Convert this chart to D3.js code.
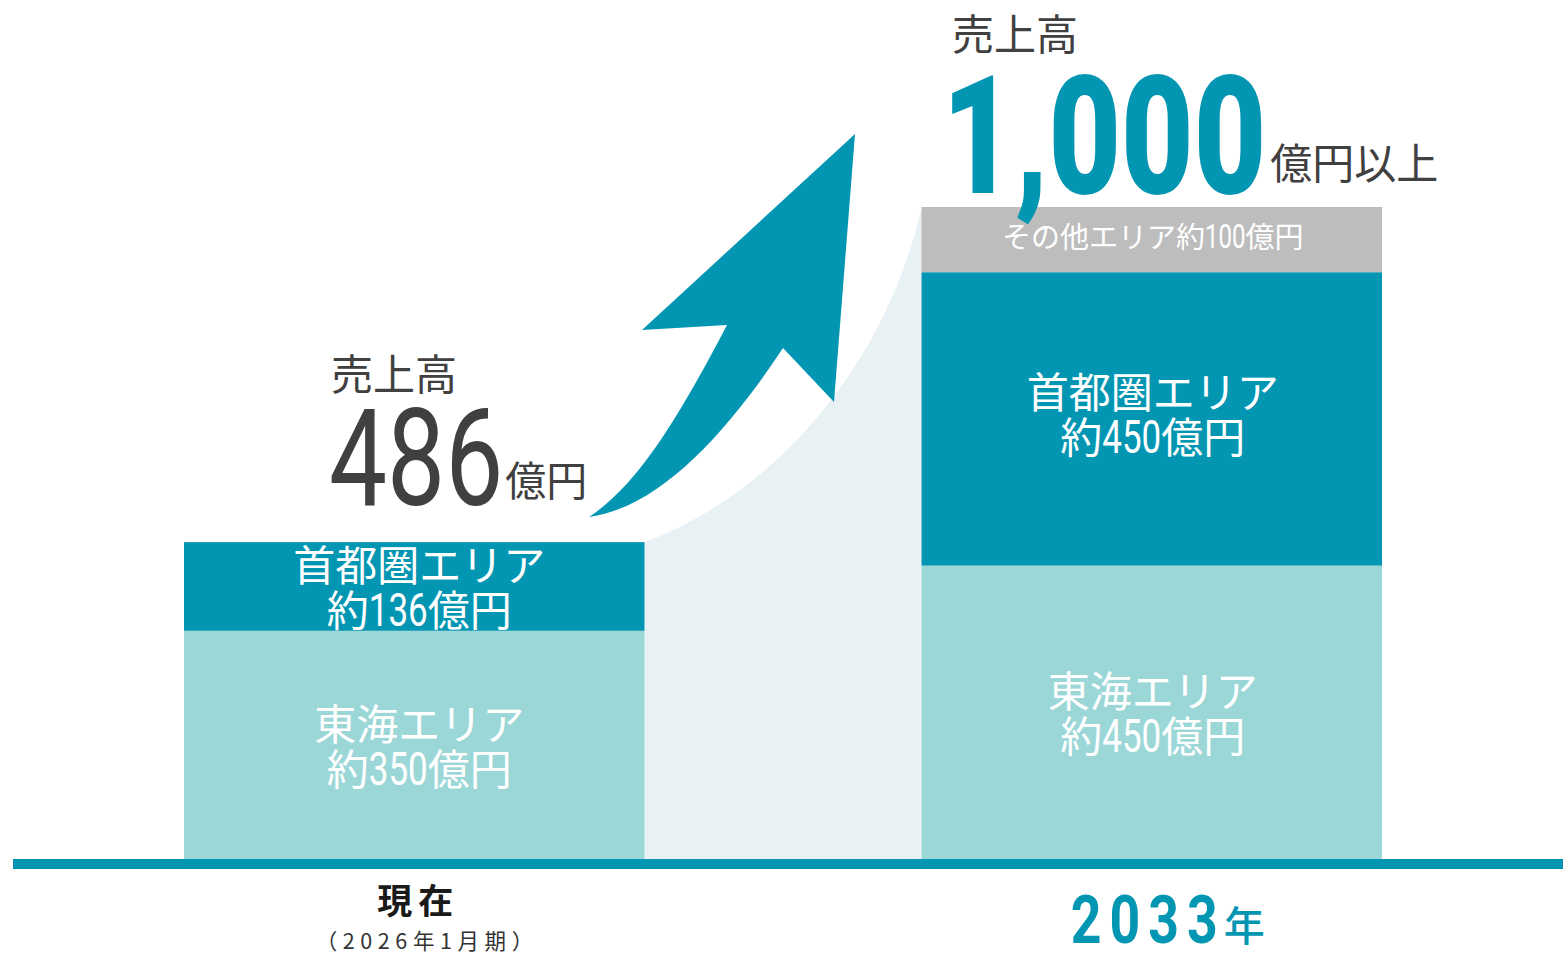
<!DOCTYPE html>
<html lang="ja">
<head>
<meta charset="utf-8">
<script src="https://cdn.jsdelivr.net/npm/d3@7"></script>
<style>
  html, body { margin: 0; padding: 0; background: #fff; overflow: hidden; }
  svg { display: block; }
</style>
</head>
<body>
<svg id="chart" width="1563" height="954"></svg>
<script>
// ---- data -------------------------------------------------------------
const periods      = ["現在", "2033年"];
const periodNotes  = ["（2026年1月期）", ""];
const areaKeys     = ["東海エリア", "首都圏エリア", "その他エリア"];
const tokaiSales   = [350, 450];
const shutokenSales = [136, 450];
const otherSales   = [0, 100];
const totalSales   = [486, 1000];
const totalSuffix  = ["億円", "億円以上"];
const totalCaption = "売上高";
const yDomain      = [0, 1000];

// ---- styles -----------------------------------------------------------
const CJK = "'Noto Sans CJK JP', 'Noto Sans', sans-serif";
const NUM = "Roboto, 'Noto Sans', sans-serif";
const TEAL = "#0396b3";
const areaColor = { "東海エリア": "#9cd7d8", "首都圏エリア": TEAL, "その他エリア": "#bdbdbd" };
const DARK = "#404040";

const W = 1563, H = 954;
const svg = d3.select("#chart");

const x = d3.scaleBand().domain(periods).range([184, 1382]).paddingInner(0.3756).paddingOuter(0);
const y = d3.scaleLinear().domain(yDomain).range([859, 207]);
const bw = x.bandwidth();

const rows = periods.map((p, i) => ({
  period: p,
  "東海エリア": tokaiSales[i],
  "首都圏エリア": shutokenSales[i],
  "その他エリア": otherSales[i]
}));
const series = d3.stack().keys(areaKeys)(rows);

// Lays out a run of text pieces side by side; digit runs can be narrowed.
function richText(parent, parts, x0, y0, anchor) {
  const g = parent.append("g");
  const items = parts.map(p => {
    const t = g.append("text").text(p.t)
      .attr("font-family", p.family)
      .attr("font-size", p.size)
      .attr("font-weight", p.weight || 400)
      .attr("fill", p.fill)
      .style("letter-spacing", (p.ls || 0) + "px");
    const sx = p.sx || 1;
    const w = t.node().getComputedTextLength() * sx;
    if (sx !== 1) t.attr("textLength", w).attr("lengthAdjust", "spacingAndGlyphs");
    return { t, w, dy: p.dy || 0, gap: p.gap || 0 };
  });
  const total = d3.sum(items, d => d.w + d.gap);
  let cx = anchor === "middle" ? x0 - total / 2 : x0;
  items.forEach(d => {
    cx += d.gap;
    d.t.attr("x", cx).attr("y", y0 + d.dy);
    cx += d.w;
  });
  return g;
}

// Splits "約350億円" style strings into kanji and condensed-digit pieces.
function labelParts(str, size, numSize, numScale, fill) {
  return str.split(/([0-9,]+)/).filter(s => s.length).map(s => /^[0-9,]+$/.test(s)
    ? { t: s, family: NUM, size: numSize, sx: numScale, fill }
    : { t: s, family: CJK, size, fill });
}

// ---- growth wedge behind the bars --------------------------------------
const ax = x(periods[0]) + bw, ay = y(totalSales[0]);
const bx = x(periods[1]),      by = y(totalSales[1]);
const wedge = d3.path();
wedge.moveTo(ax, ay);
wedge.bezierCurveTo(ax + 0.52 * (bx - ax), ay - 0.16 * (ay - by),
                    ax + 0.89 * (bx - ax), ay - 0.58 * (ay - by), bx, by);
wedge.lineTo(bx, y(0));
wedge.lineTo(ax, y(0));
wedge.closePath();
svg.append("path").attr("d", wedge.toString()).attr("fill", "#e8f1f4");

// ---- stacked bars ------------------------------------------------------
const layers = svg.append("g").selectAll("g").data(series).join("g")
  .attr("fill", d => areaColor[d.key]);
layers.selectAll("rect").data(d => d.map(s => ({ s, key: d.key }))).join("rect")
  .filter(d => d.s[1] - d.s[0] > 0)
  .attr("x", d => x(d.s.data.period))
  .attr("width", bw)
  .attr("y", d => y(d.s[1]))
  .attr("height", d => y(d.s[0]) - y(d.s[1]));

// ---- labels inside the bars --------------------------------------------
const labelLayer = svg.append("g");
series.forEach(layer => {
  layer.forEach((s, i) => {
    const v = s[1] - s[0];
    if (v <= 0) return;
    const cx = x(s.data.period) + bw / 2 + (i === 0 ? 5 : 1);
    const cy = (y(s[0]) + y(s[1])) / 2;
    if (layer.key === "その他エリア") {
      richText(labelLayer, labelParts(`${layer.key}約${v}億円`, 29, 33, 0.73, "#fff"), cx, cy + 8, "middle");
    } else {
      const lift = layer.key === "首都圏エリア" && i === 1 ? 6 : 0;
      richText(labelLayer, [{ t: layer.key, family: CJK, size: 42, fill: "#fff" }], cx, cy - 5 - lift, "middle");
      richText(labelLayer, labelParts(`約${v}億円`, 42, 46, 0.76, "#fff"), cx, cy + 40 - lift, "middle");
    }
  });
});

// ---- arrow ---------------------------------------------------------------
const arrow = d3.path();
arrow.moveTo(589, 517);
arrow.bezierCurveTo(632, 488, 668, 438, 727, 325);
arrow.lineTo(642, 330);
arrow.lineTo(855, 134);
arrow.lineTo(834, 402);
arrow.lineTo(783, 348);
arrow.bezierCurveTo(730, 428, 662, 507, 589, 517);
arrow.closePath();
svg.append("path").attr("d", arrow.toString()).attr("fill", TEAL);

// ---- baseline ------------------------------------------------------------
svg.append("rect").attr("x", 13).attr("y", y(0)).attr("width", W - 13).attr("height", 10).attr("fill", TEAL);

// ---- totals above the bars ---------------------------------------------
// current period
richText(svg, [{ t: totalCaption, family: CJK, size: 42, fill: DARK }], 331, 390, "start");
richText(svg, [
  { t: String(totalSales[0]), family: NUM, size: 136, sx: 0.76, fill: DARK },
  { t: totalSuffix[0], family: CJK, size: 41, fill: DARK, dy: -9, gap: 2 }
], 329, 505, "start");

// 2033 target
richText(svg, [{ t: totalCaption, family: CJK, size: 42, fill: DARK }], 952, 50, "start");
richText(svg, [
  { t: d3.format(",")(totalSales[1]), family: NUM, size: 166, weight: 900, sx: 0.755, fill: TEAL },
  { t: totalSuffix[1], family: CJK, size: 42, fill: DARK, dy: -14, gap: 4 }
], 942, 193, "start");

// ---- period labels under the baseline ------------------------------------
const cat0 = x(periods[0]) + bw / 2;
richText(svg, [{ t: periods[0], family: CJK, size: 35, weight: 700, fill: "#1a1a1a", ls: 6 }], cat0 + 4, 914, "middle");
richText(svg, [{ t: periodNotes[0], family: CJK, size: 21.5, fill: "#333", ls: 5.6 }], cat0 + 13, 949, "middle");

const cat1 = x(periods[1]) + bw / 2;
const yr = periods[1].match(/^(\d+)(.*)$/);
richText(svg, [
  { t: yr[1], family: NUM, size: 67, weight: 700, sx: 0.8, fill: TEAL, ls: 10 },
  { t: yr[2], family: CJK, size: 41, weight: 500, fill: TEAL, dy: -2, gap: -2 }
], cat1 + 16, 943, "middle");
</script>
</body>
</html>
